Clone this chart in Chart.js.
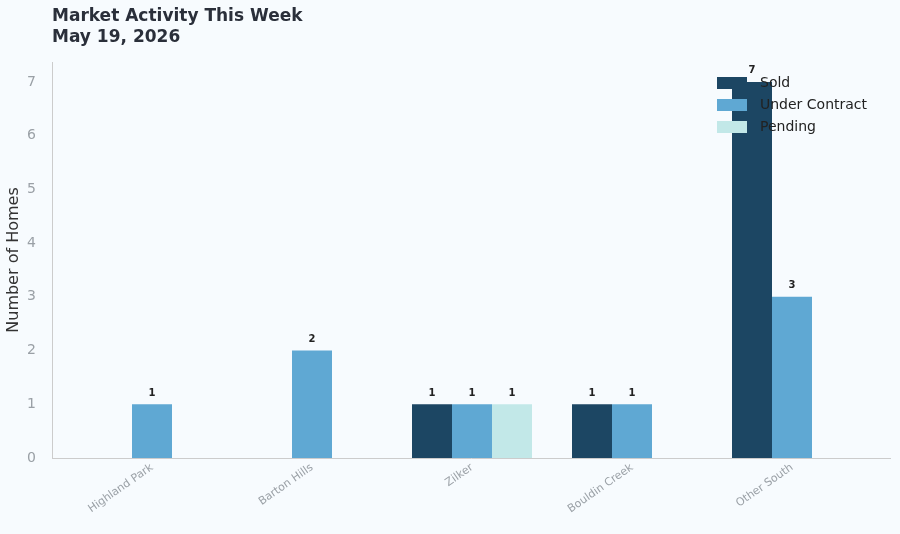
<!DOCTYPE html>
<html><head><meta charset="utf-8">
<script src="https://cdn.jsdelivr.net/npm/chart.js@4"></script>
<style>html,body{margin:0;background:#f7fbfe}#w{width:900px;height:534px}</style>
</head><body><div id="w"><canvas id="c"></canvas></div>
<script>
const categories=["Highland Park","Barton Hills","Zilker","Bouldin Creek","Other South"];
const sold=[0,0,1,1,7];
const underContract=[1,2,1,1,3];
const pending=[0,0,1,0,0];
const yTicks=[0,1,2,3,4,5,6,7];
const colors=["#1c4663","#5fa8d3","#c2e8e8"];
const names=["Sold","Under Contract","Pending"];
const toPts=a=>a.map((v,i)=>({x:i,y:v}));
const F="DejaVu Sans";
const extra={id:'extra',
 beforeDraw(c){const x=c.ctx;x.save();x.fillStyle='#f7fbfe';x.fillRect(0,0,c.width,c.height);x.restore();},
 afterDraw(c){const x=c.ctx;x.save();
  x.fillStyle='#2a2f3a';x.font='bold 17px '+F;x.textBaseline='middle';
  x.fillText('Market Activity This Week',52,17);x.fillText('May 19, 2026',52,38);
  // data labels
  x.font='bold 10px '+F;x.fillStyle='#222';x.textAlign='center';x.textBaseline='bottom';
  c.data.datasets.forEach((d,di)=>{c.getDatasetMeta(di).data.forEach((b,i)=>{const v=d.data[i].y;if(v>0)x.fillText(String(v),b.x,b.y-6);});});
  // legend
  x.textAlign='left';x.textBaseline='middle';x.font='14px '+F;
  names.forEach((n,i)=>{const y=83+i*22;x.fillStyle=colors[i];x.fillRect(717,y-6,30,12);x.fillStyle='#222';x.fillText(n,760,y);});
  x.restore();}};
new Chart(document.getElementById('c'),{type:'bar',
 data:{datasets:names.map((n,i)=>({label:n,data:toPts([sold,underContract,pending][i]),backgroundColor:colors[i],categoryPercentage:0.75,barPercentage:1}))},
 options:{responsive:true,maintainAspectRatio:false,animation:false,
  layout:{padding:{top:62,right:10,left:0,bottom:0}},
  plugins:{legend:{display:false},tooltip:{enabled:false}},
  scales:{
   x:{type:'linear',min:-0.625,max:4.6125,offset:false,
    afterBuildTicks:s=>{s.ticks=categories.map((c,i)=>({value:i}));},
    ticks:{callback:v=>categories[v]??'',color:'#9aa0a6',font:{family:F,size:11},maxRotation:35,minRotation:35,autoSkip:false},
    grid:{display:false,drawTicks:false},border:{color:'#cccccc'},
    afterFit:s=>{s.height=76;}},
   y:{min:0,max:7.37,
    afterBuildTicks:s=>{s.ticks=yTicks.map(v=>({value:v}));},
    ticks:{color:'#9aa0a6',font:{family:F,size:14},padding:8},
    grid:{display:false},border:{color:'#cccccc'},
    title:{display:true,text:'Number of Homes',color:'#333',font:{family:F,size:16}},
    afterFit:s=>{s.width=52;}}
  }},plugins:[extra]});
</script></body></html>
